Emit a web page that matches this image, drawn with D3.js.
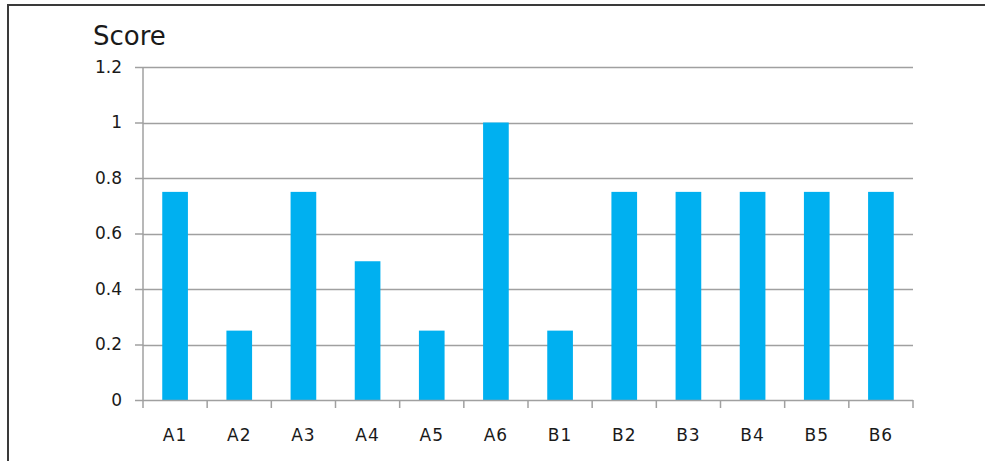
<!DOCTYPE html>
<html>
<head>
<meta charset="utf-8">
<script src="https://cdn.jsdelivr.net/npm/d3@7/dist/d3.min.js"></script>
<style>
  html, body { margin: 0; padding: 0; background: #fff; }
  svg { display: block; }
  text { font-family: "DejaVu Sans", "Open Sans", sans-serif; fill: #1a1a1a; }
</style>
</head>
<body>
<svg id="chart" width="985" height="461"></svg>
<script>
// Scores per item
const categories = ["A1", "A2", "A3", "A4", "A5", "A6", "B1", "B2", "B3", "B4", "B5", "B6"];
const scores = [0.75, 0.25, 0.75, 0.5, 0.25, 1, 0.25, 0.75, 0.75, 0.75, 0.75, 0.75];
const yTicks = [0, 0.2, 0.4, 0.6, 0.8, 1, 1.2];
const yTickLabels = ["0", "0.2", "0.4", "0.6", "0.8", "1", "1.2"];
const chartTitle = "Score";

const svg = d3.select("#chart");
const W = 985, H = 461;

// Outer chart frame (runs past the right and bottom edges)
svg.append("rect")
  .attr("x", 8).attr("y", 5)
  .attr("width", W + 20).attr("height", H + 20)
  .attr("fill", "#fff")
  .attr("stroke", "#3a3a3a")
  .attr("stroke-width", 2);

const plot = { left: 143, right: 913, top: 67, bottom: 400 };

const x = d3.scaleBand()
  .domain(categories)
  .range([plot.left, plot.right])
  .paddingInner(0.6)
  .paddingOuter(0.3);

const y = d3.scaleLinear()
  .domain([0, 1.2])
  .range([plot.bottom, plot.top]);

const gridColor = "#a0a0a0";

// Horizontal gridlines
svg.append("g")
  .selectAll("line")
  .data(yTicks.filter(d => d > 0))
  .join("line")
  .attr("x1", plot.left).attr("x2", plot.right)
  .attr("y1", d => Math.round(y(d)) + 0.5)
  .attr("y2", d => Math.round(y(d)) + 0.5)
  .attr("stroke", gridColor)
  .attr("stroke-width", 1.5);

// Bars
svg.append("g")
  .selectAll("rect")
  .data(categories.map((c, i) => ({ c, v: scores[i] })))
  .join("rect")
  .attr("x", d => x(d.c))
  .attr("y", d => y(d.v))
  .attr("width", x.bandwidth())
  .attr("height", d => y(0) - y(d.v))
  .attr("fill", "#00b0f0");

// Y axis
const yAxis = d3.axisLeft(y)
  .tickValues(yTicks)
  .tickFormat((d, i) => yTickLabels[i])
  .tickSize(8)
  .tickPadding(13);
const gy = svg.append("g")
  .attr("transform", `translate(${plot.left},0)`)
  .call(yAxis);
gy.select(".domain").attr("stroke", gridColor).attr("stroke-width", 1.5)
  .attr("d", `M0,${plot.top}V${plot.bottom}`);
gy.selectAll(".tick line").attr("stroke", gridColor).attr("stroke-width", 1.5);
gy.selectAll(".tick text")
  .style("font-size", "17px")
  .attr("fill", "#1a1a1a");

// X axis with boundary ticks between categories
const xEdges = d3.range(categories.length + 1).map(i => plot.left + i * (plot.right - plot.left) / categories.length);
const gx = svg.append("g");
gx.append("line")
  .attr("x1", plot.left).attr("x2", plot.right)
  .attr("y1", plot.bottom + 0.5).attr("y2", plot.bottom + 0.5)
  .attr("stroke", gridColor).attr("stroke-width", 1.5);
gx.selectAll("line.edge")
  .data(xEdges)
  .join("line")
  .attr("class", "edge")
  .attr("x1", d => d).attr("x2", d => d)
  .attr("y1", plot.bottom).attr("y2", plot.bottom + 8)
  .attr("stroke", gridColor).attr("stroke-width", 1.5);
gx.selectAll("text")
  .data(categories)
  .join("text")
  .attr("x", d => x(d) + x.bandwidth() / 2)
  .attr("y", 441)
  .attr("text-anchor", "middle")
  .style("font-size", "17px")
  .style("letter-spacing", "1px")
  .text(d => d);

// Title
svg.append("text")
  .attr("x", 93).attr("y", 45)
  .style("font-size", "26px")
  .text(chartTitle);
</script>
</body>
</html>
